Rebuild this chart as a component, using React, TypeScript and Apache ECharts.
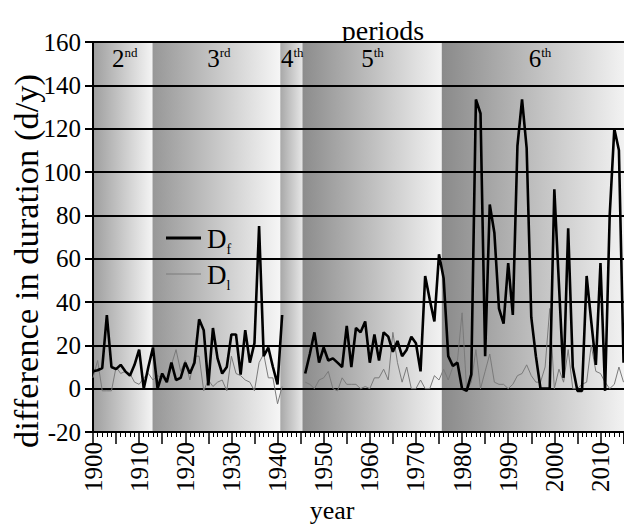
import React, { useEffect, useRef } from "react";
import * as echarts from "echarts";

// ---------- data ----------
const DF_START_EARLY = 1900;
const dfEarly = [
  8, 8.5, 9.5, 34, 10, 9, 11, 8, 6, 11,
  18, 0, 10, 19, 0, 7, 3, 12, 4, 5,
  12, 7, 12, 32, 27, 1.5, 28, 14, 7, 10,
  25, 25, 6.5, 27, 12, 21, 75, 15, 19, 10,
  2, 34,
];
const dlEarly = [
  5, 13, -1, -1, -1, 10, 7, 8, 7, 3,
  2, 5, 7, 4, 6, 5, 3, 11, 18, 8,
  13, 4, 15, 15, -1, 4, 1, 3, 4, -1,
  15, 7, 6, 4, 3, -1, 12, 16, 5, 5,
  -7, 1,
];
const DF_START_LATE = 1946;
const dfLate = [
  7, 16, 26, 12, 19, 13, 14, 12, 10, 29,
  10, 28, 26, 31, 12, 25, 13, 26, 24, 17,
  22, 15, 18, 24, 21, 8, 52, 41, 31, 62,
  51, 15, 10.5, 12, 0, -1, 6.6, 133.5, 127, 15,
  85, 72, 37, 30, 58, 34, 112, 133.5, 111, 33,
  15, 0, 0, 0, 92, 48, 5, 74, 10, -1,
  -1, 52, 31, 11, 58, -1, 80, 120, 110, 12,
];
const dlLate = [
  3, 2, 0, 4, 5, 8, 0, -1, 5, 2,
  2, 2, 0, 1, 0, 5, 5, 9, 4, 26,
  12, 3, 10, 0, 0, 4, 0, 0, 6, 4,
  9, 4, 10, 13, 35, -1, 3, 18, 0, 8,
  16, 3, 2, 2, 0, 2, 6, 7, 11, 6,
  3, 3, 10, 37, 0, 9, 3, 18, 0, 0,
  2, 3, 20, 8, 7, 3, 0, 2, 10, 3,
];

const periodNumbers = ["2", "3", "4", "5", "6"];
const periodSuffixes = ["nd", "rd", "th", "th", "th"];
const periodFrom = [1900, 1912.9, 1940.6, 1945.4, 1975.6];
const periodTo = [1912.9, 1940.6, 1945.4, 1975.6, 2015.2];
const periodLabelYear = [1906.9, 1927.3, 1943.2, 1960.6, 1996.9];

const X_MIN = 1900;
const X_MAX = 2015.1;
const Y_MIN = -20;
const Y_MAX = 160;
const Y_STEP = 20;

// ---------- styles ----------
const FONT = "'Liberation Serif', 'Times New Roman', serif";
const bandColors: [string, string][] = [
  ["#9e9e9e", "#f4f4f4"],
  ["#979797", "#f6f6f6"],
  ["#a8a8a8", "#e6e6e6"],
  ["#8c8c8c", "#f2f2f2"],
  ["#8a8a8a", "#f2f2f2"],
];

function toPairs(start: number, values: number[]) {
  return values.map((v, i) => [start + i, v]);
}

export default function App() {
  const ref = useRef<HTMLDivElement>(null);

  useEffect(() => {
    if (!ref.current) return;
    const chart = echarts.init(ref.current, null, { renderer: "svg" });

    const gap = [[1943.5, "-"]];
    const dfData = [...toPairs(DF_START_EARLY, dfEarly), ...gap, ...toPairs(DF_START_LATE, dfLate)];
    const dlData = [...toPairs(DF_START_EARLY, dlEarly), ...gap, ...toPairs(DF_START_LATE, dlLate)];

    const bandAreas = periodFrom.map((from, i) => [
      {
        xAxis: from,
        itemStyle: {
          color: new echarts.graphic.LinearGradient(0, 0, 1, 0, [
            { offset: 0, color: bandColors[i][0] },
            { offset: 1, color: bandColors[i][1] },
          ]),
        },
      },
      { xAxis: periodTo[i] },
    ]);

    const labelData = periodLabelYear.map((yr, i) => ({
      value: [yr, Y_MAX],
      label: {
        show: true,
        position: "bottom",
        distance: 3,
        color: "#000",
        opacity: 1,
        formatter: `{n|${periodNumbers[i]}}{s|${periodSuffixes[i]}}`,
        rich: {
          n: { fontSize: 25, fontFamily: FONT, color: "#000", lineHeight: 26, verticalAlign: "top" },
          s: { fontSize: 13, fontFamily: FONT, color: "#000", lineHeight: 13, verticalAlign: "top" },
        },
      },
    }));

    const legendRich = {
      m: { fontSize: 27, fontFamily: FONT, fill: "#000", lineHeight: 28, verticalAlign: "bottom" },
      s: { fontSize: 14, fontFamily: FONT, fill: "#000", lineHeight: 14, verticalAlign: "bottom", padding: [0, 0, -4, 0] },
    };

    chart.setOption({
      animation: false,
      backgroundColor: "#ffffff",
      grid: { left: 93, top: 42, width: 531, height: 390, containLabel: false },
      xAxis: {
        type: "value",
        z: 3,
        min: X_MIN,
        max: X_MAX,
        interval: 5,
        axisLine: { show: true, onZero: false, lineStyle: { color: "#000", width: 2 } },
        axisTick: { show: true, length: 12, lineStyle: { color: "#000", width: 1.5 } },
        minorTick: { show: true, splitNumber: 5, length: 5, lineStyle: { color: "#000", width: 1 } },
        splitLine: { show: false },
        axisLabel: {
          rotate: 90,
          margin: 10,
          fontSize: 25,
          fontFamily: FONT,
          color: "#000",
          showMaxLabel: false,
          formatter: (v: number) => (Math.abs(v % 10) < 1e-6 ? String(v) : ""),
        },
      },
      yAxis: {
        type: "value",
        z: 3,
        min: Y_MIN,
        max: Y_MAX,
        interval: Y_STEP,
        axisLine: { show: true, lineStyle: { color: "#000", width: 2 } },
        axisTick: { show: true, length: 8, lineStyle: { color: "#000", width: 2 } },
        splitLine: { show: true, lineStyle: { color: "#000", width: 2 } },
        axisLabel: { margin: 12, fontSize: 25, fontFamily: FONT, color: "#000" },
      },
      series: [
        {
          name: "bands",
          type: "line",
          z: 1,
          silent: true,
          data: [],
          markArea: { silent: true, z: 1, data: bandAreas },
        },
        {
          name: "Dl",
          type: "line",
          z: 4,
          data: dlData,
          showSymbol: false,
          symbol: "none",
          connectNulls: false,
          lineStyle: { color: "#7a7a7a", width: 1 },
        },
        {
          name: "Df",
          type: "line",
          z: 5,
          data: dfData,
          showSymbol: false,
          symbol: "none",
          connectNulls: false,
          lineStyle: { color: "#000", width: 2.6 },
        },
        {
          name: "periodLabels",
          type: "scatter",
          z: 6,
          silent: true,
          symbolSize: 1,
          itemStyle: { color: "rgba(0,0,0,0)", opacity: 1 },
          data: labelData,
        },
      ],
      graphic: [
        {
          type: "text",
          x: 383,
          y: 30,
          style: { text: "periods", fontSize: 28, fontFamily: FONT, fill: "#000", textAlign: "center", textVerticalAlign: "middle" },
        },
        {
          type: "text",
          x: 26,
          y: 261,
          rotation: Math.PI / 2,
          style: { text: "difference in duration (d/y)", fontSize: 34.5, fontFamily: FONT, fill: "#000", textAlign: "center", textVerticalAlign: "middle" },
        },
        {
          type: "text",
          x: 332,
          y: 510,
          style: { text: "year", fontSize: 26, fontFamily: FONT, fill: "#000", textAlign: "center", textVerticalAlign: "middle" },
        },
        { type: "line", z: 10, shape: { x1: 166, y1: 238, x2: 201, y2: 238 }, style: { stroke: "#000", lineWidth: 3 } },
        { type: "line", z: 10, shape: { x1: 166, y1: 274, x2: 201, y2: 274 }, style: { stroke: "#7a7a7a", lineWidth: 1 } },
        { type: "text", z: 10, x: 207, y: 238, style: { text: "{m|D}{s|f}", textVerticalAlign: "middle", rich: legendRich } },
        { type: "text", z: 10, x: 207, y: 274, style: { text: "{m|D}{s|l}", textVerticalAlign: "middle", rich: legendRich } },
      ],
    });

    return () => chart.dispose();
  }, []);

  return <div ref={ref} style={{ position: "fixed", left: 0, top: 0, width: 624, height: 525 }} />;
}
